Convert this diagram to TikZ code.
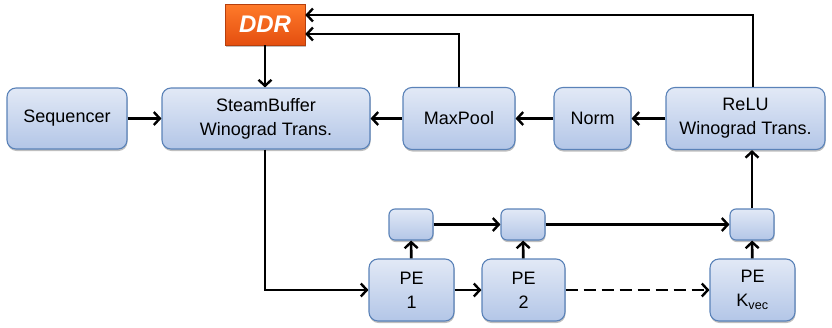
\documentclass[tikz,border=0pt]{standalone}
\usepackage{fontspec}
\setmainfont{Liberation Sans}
\usetikzlibrary{arrows.meta,shadows}
\definecolor{boxtop}{HTML}{E2E9F6}
\definecolor{boxbot}{HTML}{B3C6E7}
\definecolor{boxline}{HTML}{5A82B8}
\definecolor{ddrtop}{HTML}{FF7A2A}
\definecolor{ddrbot}{HTML}{E44F10}
\begin{document}
\begin{tikzpicture}[x=1pt,y=-1pt,
  blk/.style={draw=boxline, line width=1.1pt, rounded corners=9pt,
    top color=boxtop, bottom color=boxbot, align=center,
    font=\fontsize{18}{24}\selectfont, inner sep=0pt,
    drop shadow={shadow xshift=0.5pt, shadow yshift=-2pt, opacity=0.25, fill=black}},
  sml/.style={blk, rounded corners=6pt, minimum width=44pt, minimum height=31pt},
  arr/.style={line width=2.6pt, -{Straight Barb[length=6pt,width=13pt,line width=2.4pt]}},
  ddrbox/.style={draw=ddrbot!80!black, line width=0.6pt, top color=ddrtop, bottom color=ddrbot,
    text=white, font=\fontsize{24}{28}\selectfont\bfseries\itshape, inner sep=0pt,
    minimum width=80pt, minimum height=41pt,
    drop shadow={shadow xshift=0.5pt, shadow yshift=-2pt, opacity=0.25, fill=black}}
]
\useasboundingbox (0,0) rectangle (832,327);

\node[ddrbox] (ddr) at (265,24.5) {DDR};

\node[blk, minimum width=120pt, minimum height=61pt] (seq) at (67,118.5) {Sequencer};
\node[blk, minimum width=208pt, minimum height=61pt] (sb) at (266,118.5) {SteamBuffer\\Winograd Trans.};
\node[blk, minimum width=112pt, minimum height=62pt] (mp) at (459,118.5) {MaxPool};
\node[blk, minimum width=77pt, minimum height=62pt] (norm) at (592.5,118.5) {Norm};
\node[blk, minimum width=159pt, minimum height=62pt] (relu) at (745.5,118.5) {ReLU\\Winograd Trans.};

\node[sml] (b1) at (411,224.5) {};
\node[sml] (b2) at (523,224.5) {};
\node[sml] (b3) at (752,224.5) {};

\node[blk, minimum width=85pt, minimum height=62pt] (pe1) at (411.5,290) {PE\\1};
\node[blk, minimum width=83pt, minimum height=62pt] (pe2) at (523.5,290) {PE\\2};
\node[blk, minimum width=85pt, minimum height=62pt] (pek) at (752.5,290) {PE\\K\textsubscript{vec}};

\draw[arr] (ddr.south) -- (ddr.south |- sb.north);
\draw[arr] (seq) -- (sb);
\draw[arr] (mp) -- (sb);
\draw[arr] (norm) -- (mp);
\draw[arr] (relu) -- (norm);
\draw[arr] (mp.north) |- ([yshift=-9.5pt]ddr.east);
\draw[arr] ([xshift=7.5pt]relu.north) |- ([yshift=9.5pt]ddr.east);
\draw[arr] ([xshift=-1pt]sb.south) |- (pe1.west);
\draw[arr] (pe1) -- (pe2);
\draw[arr, dash pattern=on 12pt off 6pt] (pe2) -- (pek);
\draw[arr] (pe1) -- (b1);
\draw[arr] (pe2) -- (b2);
\draw[arr] (pek) -- (b3);
\draw[arr] (b1) -- (b2);
\draw[arr] (b2) -- (b3);
\draw[arr] (b3.north) -- (b3.north |- relu.south);
\end{tikzpicture}
\end{document}
